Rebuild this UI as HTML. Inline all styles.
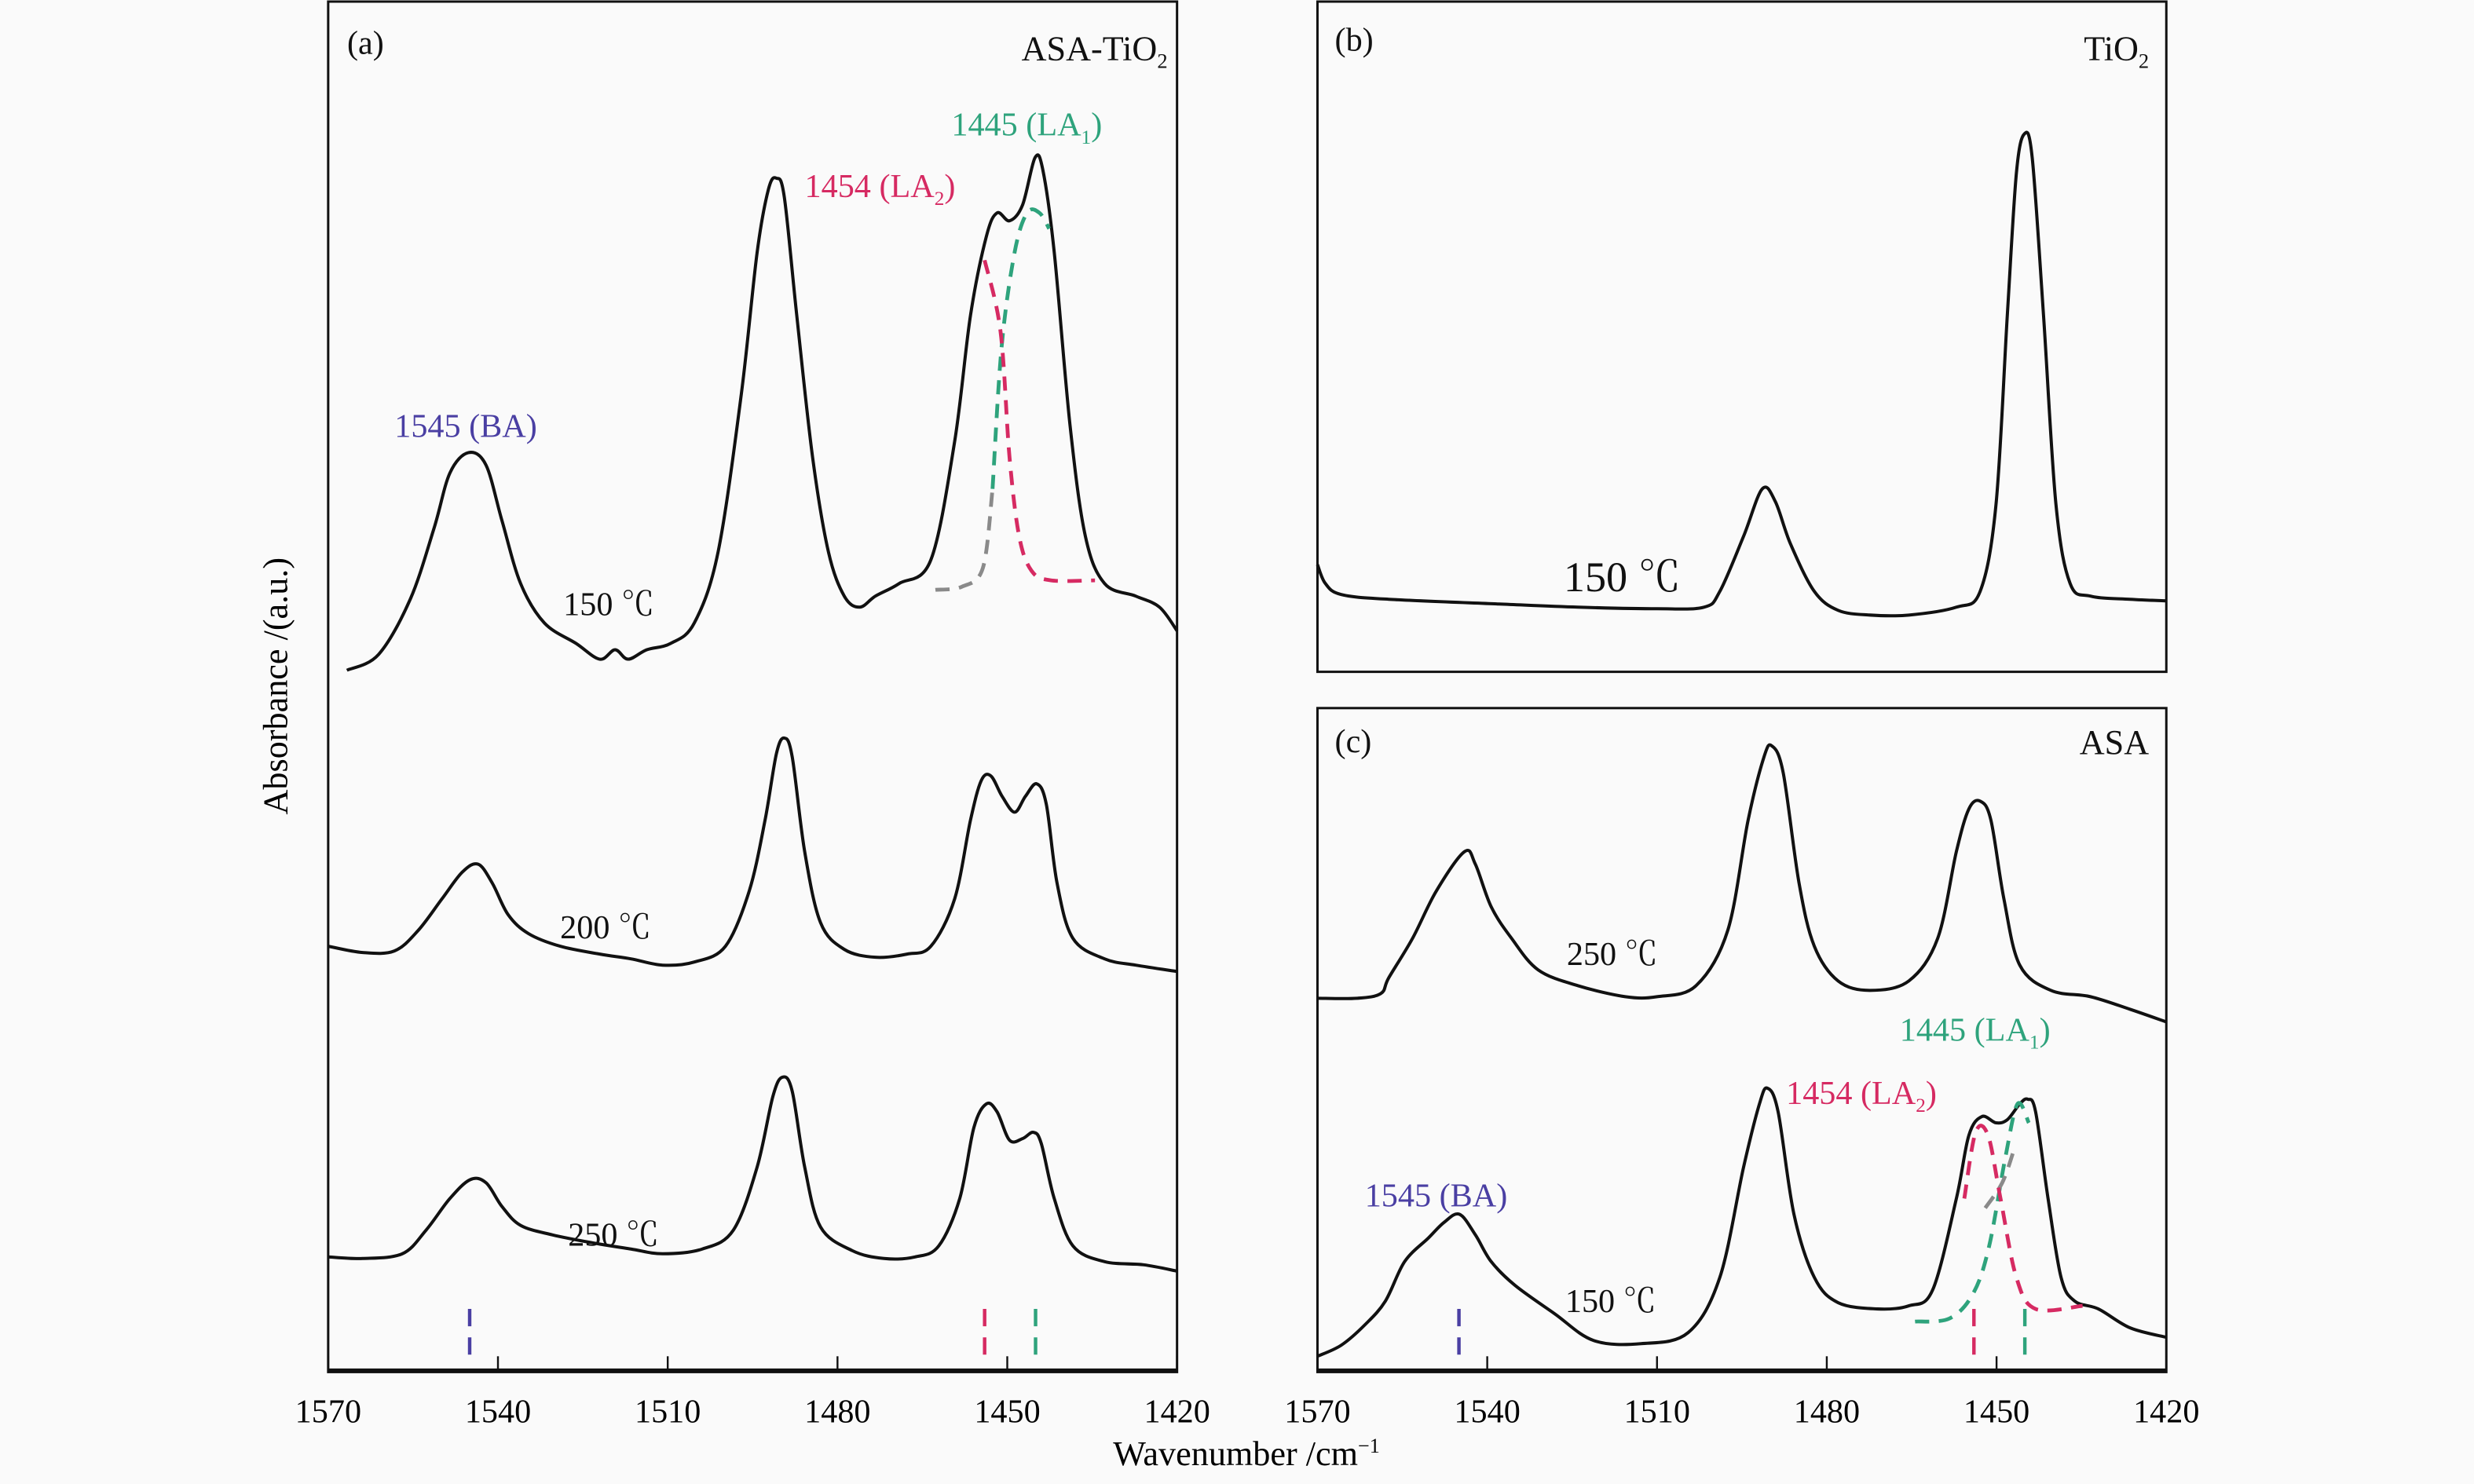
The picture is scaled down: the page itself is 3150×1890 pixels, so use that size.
<!DOCTYPE html>
<html><head><meta charset="utf-8"><style>
html,body{margin:0;padding:0;background:#fafafa;}
svg{display:block;}
text{font-family:"Liberation Serif","Noto Serif CJK SC",serif;}
</style></head><body>
<svg id="chart" width="3150" height="1890" viewBox="0 0 1568 941" preserveAspectRatio="none">
<rect x="0" y="0" width="1568" height="941" fill="#fafafa"/>
<g id="plots"></g>
<text x="182" y="435" font-size="22" text-anchor="middle" transform="rotate(-90 182 435)">Absorbance /(a.u.)</text>
<text x="790" y="929" font-size="22" text-anchor="middle">Wavenumber /cm<tspan dy="-8" font-size="13">−1</tspan></text>
</svg>
<script>
// ---- data (wavenumber, absorbance a.u.) ----
const tickLabels = [1570, 1540, 1510, 1480, 1450, 1420];
const a150wn = [1566.7,1561.1,1555.5,1551.3,1548.5,1545.2,1542.1,1539.3,1536.0,1531.8,1526.2,1522.0,1519.3,1517.0,1513.7,1509.5,1505.3,1501.1,1497.0,1494.2,1492.2,1490.8,1489.4,1487.2,1484.4,1481.6,1478.8,1476.1,1473.3,1469.1,1463.5,1459.3,1456.5,1453.7,1451.8,1449.6,1447.3,1445.1,1443.7,1441.7,1438.9,1436.2,1432.8,1427.3,1423.1,1420];
const a150abs = [445,455,490,535,570,583,575,540,500,475,462,452,458,452,458,462,475,520,620,710,750,757,745,670,580,520,492,485,492,500,515,590,670,720,735,730,740,770,762,710,600,530,500,492,485,470];
const a200wn = [1570,1563.9,1558.3,1554.1,1549.9,1546.3,1543.5,1541.0,1538.2,1534.6,1529.0,1522.0,1516.5,1510.9,1505.3,1499.8,1495.6,1492.8,1490.8,1489.4,1488.0,1485.8,1483.0,1478.8,1473.3,1467.7,1463.5,1459.3,1456.5,1454.6,1452.9,1450.9,1448.7,1446.8,1444.8,1443.1,1441.2,1438.4,1432.8,1427.3,1420];
const a200abs = [270,266,267,280,300,317,322,310,290,278,270,265,262,258,260,270,305,350,392,402,390,330,285,268,263,265,270,300,350,375,378,365,355,365,373,360,310,275,262,258,254];
const a250wn = [1570,1563.9,1556.9,1552.7,1548.5,1544.9,1542.1,1539.3,1536.0,1530.4,1523.4,1516.5,1510.9,1503.9,1498.4,1494.2,1491.4,1489.7,1488.0,1485.8,1483.0,1477.4,1471.8,1466.3,1462.1,1458.4,1455.9,1453.7,1451.8,1449.6,1447.3,1445.4,1444.0,1441.7,1438.4,1432.8,1425.9,1420];
const a250abs = [73,72,75,90,110,122,120,105,93,87,82,78,75,78,90,130,175,187,178,130,92,77,72,73,80,110,155,170,165,147,148,152,145,110,80,70,68,64];
const aFitGreyWn = [1462.7,1458.0,1454.3,1452.6];
const aFitGreyAbs = [496,498,510,560];
const aFitGreenWn = [1452.6,1451.0,1448.7,1446.5,1444.3,1442.6];
const aFitGreenAbs = [560,650,710,735,735,725];
const aFitRedWn = [1454.0,1451.2,1449.6,1447.9,1445.7,1442.3,1434.5];
const aFitRedAbs = [705,660,580,530,508,502,502];
const b150wn = [1570,1568.6,1565.8,1557.4,1537.9,1524.0,1510.0,1501.7,1498.9,1494.7,1491.4,1489.1,1486.4,1482.2,1478.0,1472.4,1465.5,1457.1,1452.9,1450.1,1448.1,1446.5,1445.1,1443.7,1441.7,1439.5,1437.0,1433.4,1426.4,1420];
const b150abs = [68,56,49,46,43,41,40,41,51,86,116,108,81,51,39,36,36,41,51,106,226,316,341,326,226,106,56,48,46,45];
const c250wn = [1570,1563.0,1558.8,1557.4,1553.2,1549.0,1544.0,1542.1,1539.3,1535.7,1531.0,1524.0,1515.6,1510.0,1503.1,1497.5,1493.9,1491.1,1489.7,1487.7,1484.9,1482.2,1478.0,1472.4,1465.5,1460.4,1457.1,1454.9,1452.9,1451.0,1448.7,1445.9,1440.4,1433.4,1426.4,1420];
const c250abs = [237,237,240,250,275,305,330,322,295,275,255,245,238,238,245,280,350,390,397,380,310,270,248,242,248,275,330,357,362,350,300,258,242,238,230,222];
const c150wn = [1570,1565.8,1561.6,1558.0,1554.6,1550.4,1547.6,1544.9,1542.1,1539.3,1535.1,1528.1,1521.2,1512.8,1504.5,1498.9,1494.7,1491.9,1490.5,1488.6,1485.8,1482.2,1478.0,1471.0,1465.5,1461.3,1457.1,1454.9,1452.6,1450.1,1448.1,1445.9,1444.5,1443.1,1440.9,1438.6,1436.2,1432.0,1426.4,1420];
const c150abs = [10,17,30,45,70,85,95,100,87,70,55,37,20,18,25,60,130,170,180,165,100,60,44,40,42,52,110,150,162,158,160,170,173,165,110,60,45,40,28,22];
const cFitGreenWn = [1464.4,1458.3,1454.1,1451.3,1448.5,1446.3,1444.3];
const cFitGreenAbs = [32,34,50,80,135,170,158];
const cFitGreyWn = [1452.0,1449.0,1447.0];
const cFitGreyAbs = [104,120,140];
const cFitRedWn = [1455.7,1453.7,1451.5,1449.3,1446.5,1443.1,1434.8];
const cFitRedAbs = [110,152,150,110,60,40,42];

// ---- layout ----
const NS='http://www.w3.org/2000/svg';
const g=document.getElementById('plots');
function mk(tag,attrs,parent){const e=document.createElementNS(NS,tag);for(const k in attrs)e.setAttribute(k,attrs[k]);(parent||g).appendChild(e);return e;}
function xScale(p){return wn=>p.x0+(1570-wn)/150*(p.x1-p.x0);}
function yScale(p){return v=>p.yb-(v-p.dmin)/(p.dmax-p.dmin)*(p.yb-p.yt);}
const panels={
 a:{x0:208,x1:746,yt:1,yb:870,dmin:0,dmax:869},
 b:{x0:835,x1:1373,yt:1,yb:426,dmin:0,dmax:425},
 c:{x0:835,x1:1373,yt:449,yb:870,dmin:0,dmax:421}
};
function spline(pts){
 let d='M'+pts[0][0].toFixed(2)+','+pts[0][1].toFixed(2);
 for(let i=0;i<pts.length-1;i++){
  const p0=pts[i-1]||pts[i],p1=pts[i],p2=pts[i+1],p3=pts[i+2]||p2;
  const c1=[p1[0]+(p2[0]-p0[0])/6,p1[1]+(p2[1]-p0[1])/6];
  const c2=[p2[0]-(p3[0]-p1[0])/6,p2[1]-(p3[1]-p1[1])/6];
  d+='C'+c1.map(v=>v.toFixed(2)).join(',')+' '+c2.map(v=>v.toFixed(2)).join(',')+' '+p2[0].toFixed(2)+','+p2[1].toFixed(2);
 }
 return d;
}
function curve(p,wn,ab,stroke,dash,name){
 const X=xScale(p),Y=yScale(p);
 const pts=wn.map((w,i)=>[X(w),Y(ab[i])]);
 const el=mk('path',{d:spline(pts),fill:'none',stroke:stroke,'stroke-width':dash?2.4:2,'stroke-dasharray':dash?'9 6':'none','stroke-linejoin':'round'});
 
 
}
function frame(p,name){
 const r=mk('rect',{x:p.x0,y:p.yt,width:p.x1-p.x0,height:p.yb-p.yt,fill:'none',stroke:'#111','stroke-width':1.5});
 
 
}
function axis(p,name){
 const X=xScale(p);
 mk('line',{x1:p.x0,x2:p.x1,y1:p.yb-1,y2:p.yb-1,stroke:'#111','stroke-width':2.5});
 tickLabels.forEach(t=>{
  const x=X(t);
  const tk=mk('line',{x1:x,x2:x,y1:p.yb,y2:p.yb-10,stroke:'#111','stroke-width':1.2});
  
  
  const lb=mk('text',{x:x,y:p.yb+32,'font-size':21,'text-anchor':'middle'});
  lb.textContent=t;
  
  
 });
}
function marker(p,wn,color,name){
 const x=xScale(p)(wn);
 const m=mk('line',{x1:x,x2:x,y1:p.yb-40,y2:p.yb-4,stroke:color,'stroke-width':2.2,'stroke-dasharray':'11 7'});
 
 
}
function label(x,y,txt,color,size,anchor,name,sub){
 const t=mk('text',{x:x,y:y,'font-size':size,fill:color,'text-anchor':anchor||'start'});
 if(sub){t.appendChild(document.createTextNode(txt[0]));const s=mk('tspan',{dy:5,'font-size':size*0.6},t);s.textContent=sub;const r=mk('tspan',{dy:-5},t);r.textContent=txt[1];}
 else t.textContent=txt;
 
 
}
const BLUE='#4a3fa3',RED='#d62a62',GREEN='#2ea37c',GREY='#8a8a8a';

frame(panels.a,'panel-a-frame');frame(panels.b,'panel-b-frame');frame(panels.c,'panel-c-frame');
axis(panels.a,'panel-a');axis(panels.c,'panel-c');

curve(panels.a,a150wn,a150abs,'#111',false,'curve-asa-tio2-150c');
curve(panels.a,a200wn,a200abs,'#111',false,'curve-asa-tio2-200c');
curve(panels.a,a250wn,a250abs,'#111',false,'curve-asa-tio2-250c');
curve(panels.a,aFitGreyWn,aFitGreyAbs,GREY,true,'fit-grey-a');
curve(panels.a,aFitGreenWn,aFitGreenAbs,GREEN,true,'fit-la1-a');
curve(panels.a,aFitRedWn,aFitRedAbs,RED,true,'fit-la2-a');
curve(panels.b,b150wn,b150abs,'#111',false,'curve-tio2-150c');
curve(panels.c,c250wn,c250abs,'#111',false,'curve-asa-250c');
curve(panels.c,c150wn,c150abs,'#111',false,'curve-asa-150c');
curve(panels.c,cFitGreenWn,cFitGreenAbs,GREEN,true,'fit-la1-c');
curve(panels.c,cFitGreyWn,cFitGreyAbs,GREY,true,'fit-grey-c');
curve(panels.c,cFitRedWn,cFitRedAbs,RED,true,'fit-la2-c');

marker(panels.a,1545,BLUE,'marker-ba-a');marker(panels.a,1454,RED,'marker-la2-a');marker(panels.a,1445,GREEN,'marker-la1-a');
marker(panels.c,1545,BLUE,'marker-ba-c');marker(panels.c,1454,RED,'marker-la2-c');marker(panels.c,1445,GREEN,'marker-la1-c');

label(220,34,'(a)','#111',21,'start','panel-a-label');
label(740,38,['ASA-TiO',''],'#111',22,'end','panel-a-title','2');
label(603,86,['1445 (LA',')'],GREEN,21,'start','label-la1-a','1');
label(510,125,['1454 (LA',')'],RED,21,'start','label-la2-a','2');
label(250,277,'1545 (BA)',BLUE,21,'start','label-ba-a');
label(357,390,'150 ℃','#111',21,'start','label-150c-a');
label(355,595,'200 ℃','#111',21,'start','label-200c-a');
label(360,790,'250 ℃','#111',21,'start','label-250c-a');
label(846,32,'(b)','#111',21,'start','panel-b-label');
label(1362,38,['TiO',''],'#111',22,'end','panel-b-title','2');
label(991,375,'150 ℃','#111',27,'start','label-150c-b');
label(846,477,'(c)','#111',21,'start','panel-c-label');
label(1362,478,'ASA','#111',22,'end','panel-c-title');
label(993,612,'250 ℃','#111',21,'start','label-250c-c');
label(1204,660,['1445 (LA',')'],GREEN,21,'start','label-la1-c','1');
label(1132,700,['1454 (LA',')'],RED,21,'start','label-la2-c','2');
label(865,765,'1545 (BA)',BLUE,21,'start','label-ba-c');
label(992,832,'150 ℃','#111',21,'start','label-150c-c');
</script>
</body></html>
